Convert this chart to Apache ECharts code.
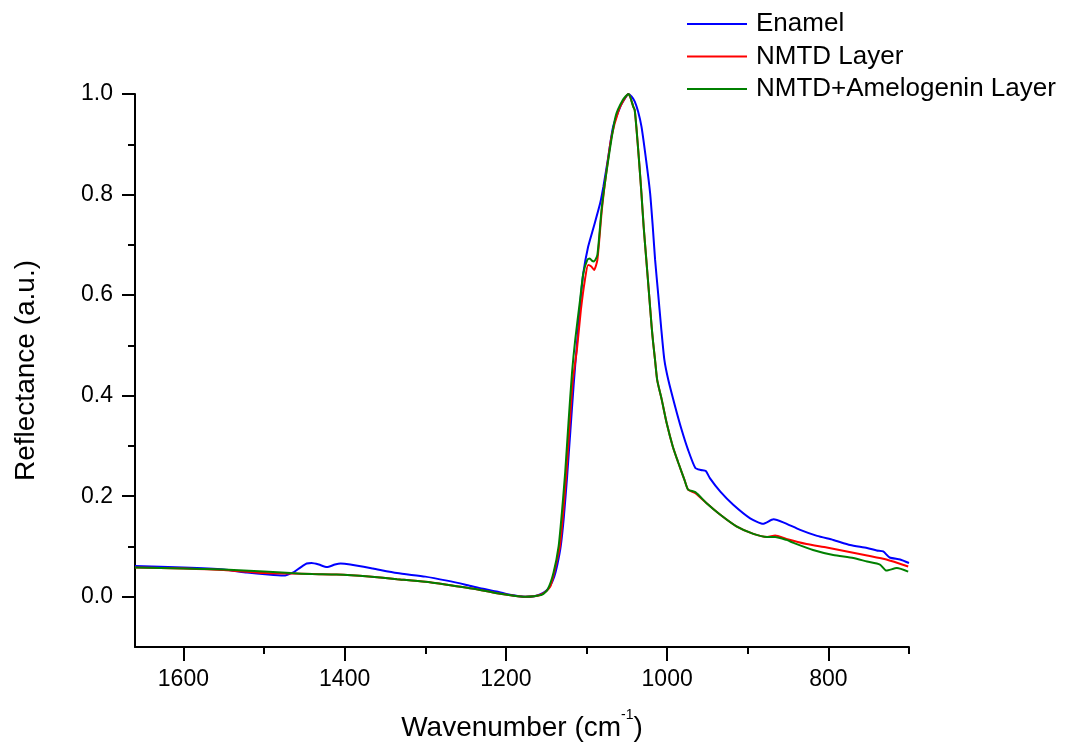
<!DOCTYPE html>
<html><head><meta charset="utf-8">
<script src="https://cdn.jsdelivr.net/npm/echarts@6/dist/echarts.min.js"></script>
<style>html,body{margin:0;padding:0;background:#fff}#c{width:1073px;height:747px}</style>
</head><body><div id="c"></div>
<script>
const seriesNames = ['Enamel', 'NMTD Layer', 'NMTD+Amelogenin Layer'];
const seriesColors = ['#0000ff', '#ff0000', '#008000'];

const enamelWn = [1660,1600,1550,1521,1495,1476,1463,1455,1447,1441,1432,1422,1412,1405,1393,1365,1335,1300,1273,1250,1232,1210,1195,1176,1165,1157,1150,1145,1140,1136,1132,1128,1124,1120,1116,1112,1108,1104,1098,1091,1083,1079,1073,1067,1058,1052,1048,1044.2,1040.1,1036,1031.8,1026.1,1021.1,1017.8,1014.9,1011.2,1007.5,1003.4,998.5,990,982,974,965,958,952,947,934,918,897,881,868,856,835,814,794,773,752,740,732,724,711,700];
const enamelR = [0.061,0.058,0.054,0.048,0.044,0.042,0.049,0.058,0.066,0.067,0.064,0.059,0.064,0.066,0.064,0.056,0.047,0.040,0.032,0.024,0.017,0.010,0.004,0.000,0.001,0.005,0.012,0.022,0.040,0.065,0.100,0.160,0.240,0.330,0.420,0.500,0.580,0.643,0.696,0.736,0.783,0.816,0.875,0.935,0.975,0.992,1.000,0.995,0.985,0.965,0.935,0.869,0.803,0.736,0.670,0.604,0.537,0.471,0.431,0.378,0.332,0.292,0.256,0.252,0.250,0.236,0.209,0.183,0.156,0.145,0.154,0.148,0.133,0.121,0.113,0.103,0.097,0.092,0.090,0.078,0.074,0.067];

const nmtdWn = [1660,1600,1550,1500,1467,1440,1410,1370,1335,1300,1273,1240,1211,1190,1176,1165,1157,1150,1145,1141,1137,1133,1129,1125,1121,1117,1112,1107,1102,1098,1094,1090.6,1086.5,1081,1075,1069,1060,1053,1048,1046,1042,1040.2,1038.2,1034.9,1031.9,1029.1,1025.8,1022.5,1019.2,1017.3,1015,1012.3,1006.7,1000.5,993,986,978.6,974,965,951,934,914,893,876,866,852,827,802,777,752,728,701];
const nmtdR = [0.058,0.056,0.053,0.047,0.046,0.045,0.044,0.040,0.035,0.030,0.024,0.016,0.007,0.002,0.000,0.001,0.004,0.011,0.020,0.042,0.070,0.100,0.165,0.245,0.340,0.430,0.490,0.570,0.630,0.660,0.657,0.650,0.670,0.769,0.849,0.915,0.968,0.990,1.000,0.995,0.975,0.968,0.935,0.869,0.803,0.736,0.670,0.604,0.537,0.505,0.471,0.431,0.392,0.345,0.299,0.266,0.233,0.213,0.206,0.186,0.163,0.140,0.125,0.119,0.122,0.115,0.105,0.098,0.090,0.082,0.074,0.060];

const ameloWn = [1660,1600,1550,1500,1467,1440,1410,1370,1335,1300,1273,1240,1211,1190,1176,1165,1155,1148,1141,1134.6,1130.6,1126.5,1122.4,1118,1114,1108,1104,1099,1096,1093,1090.6,1086.5,1081,1073,1064,1055,1048,1046,1042,1040.2,1038.2,1034.9,1031.9,1029.1,1025.8,1022.5,1019.2,1017.3,1015,1012.3,1006.7,1000.5,993,986,978.6,974,965,951,934,914,893,876,866,852,843,819,794,769,752,736,728,715,701];
const ameloR = [0.058,0.056,0.054,0.050,0.047,0.045,0.044,0.040,0.035,0.030,0.024,0.016,0.007,0.002,0.000,0.001,0.004,0.015,0.047,0.100,0.166,0.246,0.345,0.445,0.511,0.590,0.643,0.670,0.673,0.668,0.667,0.680,0.775,0.869,0.955,0.988,1.000,0.995,0.975,0.968,0.935,0.869,0.803,0.736,0.670,0.604,0.537,0.505,0.471,0.431,0.392,0.345,0.299,0.266,0.233,0.213,0.208,0.186,0.163,0.140,0.125,0.119,0.119,0.113,0.107,0.093,0.083,0.077,0.070,0.064,0.052,0.057,0.050];

const xMajorTicks = [800, 1000, 1200, 1400, 1600];
const xMinorTicks = [700, 900, 1100, 1300, 1500];
const yMajorTicks = [0, 0.2, 0.4, 0.6, 0.8, 1.0];
const yMinorTicks = [0.1, 0.3, 0.5, 0.7, 0.9];

const FF = '"Liberation Sans", Arial, sans-serif';
const zip = (a, b) => a.map((v, i) => [v, b[i]]);
const allWn = [enamelWn, nmtdWn, ameloWn];
const allR = [enamelR, nmtdR, ameloR];

const axisLineStyle = {color: '#000', width: 2};

const chart = echarts.init(document.getElementById('c'), null, {renderer: 'canvas'});
chart.setOption({
  animation: false,
  backgroundColor: '#fff',
  grid: {left: 135, right: 164, top: 94, bottom: 99, containLabel: false},
  legend: {
    orient: 'vertical', left: 687, top: 11, padding: 0,
    icon: 'rect', itemWidth: 60, itemHeight: 2, itemGap: 6.5,
    textStyle: {fontSize: 26, lineHeight: 26, color: '#000', fontFamily: FF, padding: [0, 0, 0, 4]},
    data: seriesNames
  },
  xAxis: [{
    type: 'value', min: 700, max: 1660, inverse: true, position: 'bottom',
    axisLine: {show: true, onZero: false, lineStyle: axisLineStyle},
    axisTick: {show: true, customValues: xMajorTicks, length: 14, lineStyle: axisLineStyle},
    axisLabel: {customValues: xMajorTicks, margin: 21, fontSize: 23, color: '#000', fontFamily: FF,
      formatter: v => String(v)},
    splitLine: {show: false},
    name: '{t|Wavenumber (cm}{sup|-1}{t|)}',
    nameLocation: 'middle', nameGap: 61,
    nameTextStyle: {
      fontFamily: FF, color: '#000',
      rich: {
        t: {fontSize: 28, lineHeight: 34, fontFamily: FF, color: '#000', verticalAlign: 'bottom'},
        sup: {fontSize: 14, lineHeight: 14, fontFamily: FF, color: '#000', verticalAlign: 'top'}
      }
    }
  }, {
    type: 'value', min: 700, max: 1660, inverse: true, position: 'bottom',
    axisLine: {show: false, onZero: false},
    axisTick: {show: true, customValues: xMinorTicks, length: 7, lineStyle: axisLineStyle},
    axisLabel: {show: false},
    splitLine: {show: false}
  }],
  yAxis: [{
    type: 'value', min: -0.1, max: 1.0, position: 'left',
    axisLine: {show: true, onZero: false, lineStyle: axisLineStyle},
    axisTick: {show: true, customValues: yMajorTicks, length: 13, lineStyle: axisLineStyle},
    axisLabel: {customValues: yMajorTicks, margin: 22, fontSize: 23, color: '#000', fontFamily: FF,
      formatter: v => v.toFixed(1)},
    splitLine: {show: false},
    name: 'Reflectance (a.u.)', nameLocation: 'middle', nameGap: 95,
    nameTextStyle: {fontSize: 28, color: '#000', fontFamily: FF}
  }, {
    type: 'value', min: -0.1, max: 1.0, position: 'left',
    axisLine: {show: false, onZero: false},
    axisTick: {show: true, customValues: yMinorTicks, length: 7, lineStyle: axisLineStyle},
    axisLabel: {show: false},
    splitLine: {show: false}
  }],
  series: seriesNames.map((name, i) => ({
    name: name, type: 'line', xAxisIndex: 0, yAxisIndex: 0,
    data: zip(allWn[i], allR[i]),
    symbol: 'none', smooth: 0.2,
    color: seriesColors[i],
    lineStyle: {width: 2, color: seriesColors[i]},
    z: 3 + i
  }))
});
</script>
</body></html>
